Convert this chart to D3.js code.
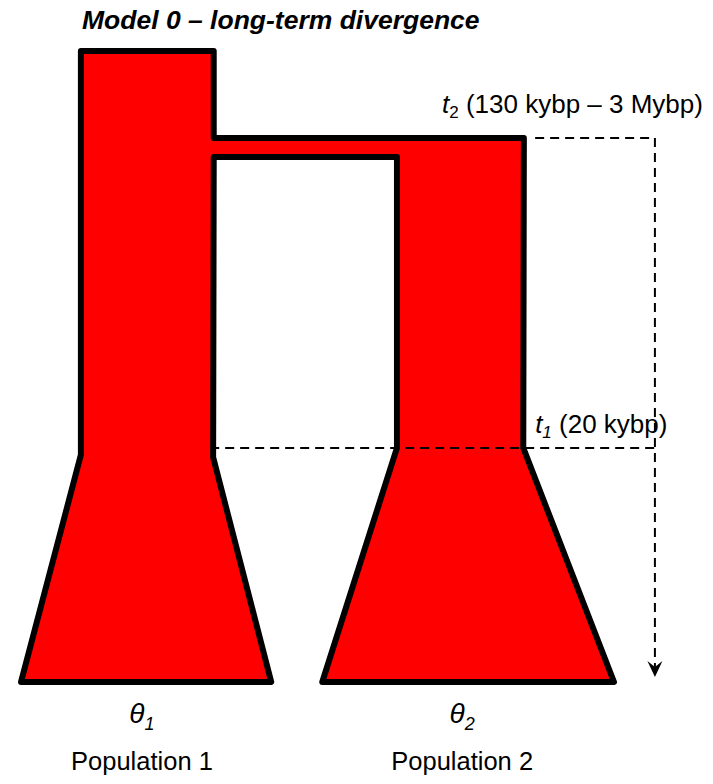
<!DOCTYPE html>
<html>
<head>
<meta charset="utf-8">
<script src="https://cdn.jsdelivr.net/npm/d3@7"></script>
<style>
  html, body { margin: 0; padding: 0; background: #fff; }
  svg { display: block; }
  text { font-family: "Liberation Sans", Arial, Helvetica, sans-serif; fill: #000; }
</style>
</head>
<body>
<svg id="chart" width="713" height="784"></svg>
<script>
// Diagram units: x runs 0..100 across the populations, y is relative time depth (0 = present, 100 = root).
const title = "Model 0 \u2013 long-term divergence";
const populations = ["Population 1", "Population 2"];
const thetaSubs = ["1", "2"];
const popCenters = [20.4, 74.4];

// time levels (depth units)
const levelNames = ["present", "growth1", "t1", "bridge", "t2", "root"];
const levelValues = [0, 35.6, 37.1, 83.2, 86.2, 100];
const L = Object.fromEntries(levelNames.map((n, i) => [n, levelValues[i]]));

// outline of the whole model (ancestral column, bridge, two daughter populations)
const outlineX = [10.1, 32.5, 32.5, 84.8, 84.7, 100, 50.8, 63.4, 63.4, 32.5, 32.4, 42.2, 0, 10.1];
const outlineT = [L.root, L.root, L.t2, L.t2, L.t1, L.present, L.present, L.t1, L.bridge, L.bridge, L.growth1, L.present, L.present, L.growth1 + 0.4];

// time markers
const markerNames = ["t2", "t1"];
const markerStart = [86.7, 31.9];
const markerLevel = [L.t2, L.t1];
const markerText = ["(130 kybp \u2013 3 Mybp)", "(20 kybp)"];
const markerLabelX = [71.0, 86.7];
const arrowX = 106.9;
const arrowEnd = 0.8;

const svg = d3.select("#chart");
const x = d3.scaleLinear().domain([0, 100]).range([21, 614]);
const y = d3.scaleLinear().domain([0, 100]).range([682, 51]);

// title
svg.append("text")
  .attr("x", 82).attr("y", 29)
  .attr("font-size", 26.5).attr("font-weight", "bold").attr("font-style", "italic")
  .text(title);

// model outline
const pts = outlineX.map((v, i) => [x(v), y(outlineT[i])]);
svg.append("path")
  .attr("d", d3.line()(pts) + "Z")
  .attr("fill", "#ff0000")
  .attr("stroke", "#000")
  .attr("stroke-width", 6)
  .attr("stroke-linejoin", "round");

// dashed time markers
const dash = "9,6";
markerNames.forEach((m, i) => {
  svg.append("line")
    .attr("x1", x(markerStart[i])).attr("x2", x(arrowX))
    .attr("y1", y(markerLevel[i])).attr("y2", y(markerLevel[i]))
    .attr("stroke", "#000").attr("stroke-width", 2).attr("stroke-dasharray", dash);
});
svg.append("line")
  .attr("x1", x(arrowX)).attr("x2", x(arrowX))
  .attr("y1", y(L.t2)).attr("y2", y(arrowEnd) - 10)
  .attr("stroke", "#000").attr("stroke-width", 2).attr("stroke-dasharray", dash);
// arrow head
const ax = x(arrowX), ay = y(arrowEnd);
svg.append("path")
  .attr("d", `M${ax},${ay} L${ax - 7.5},${ay - 16} L${ax},${ay - 10} L${ax + 7.5},${ay - 16} Z`)
  .attr("fill", "#000");

// marker labels
markerNames.forEach((m, i) => {
  const t = svg.append("text")
    .attr("x", x(markerLabelX[i]))
    .attr("y", y(markerLevel[i]) - (i === 0 ? 25 : 15))
    .attr("font-size", 26);
  t.append("tspan").attr("font-style", "italic").text("t");
  t.append("tspan").attr("font-size", 17).attr("dy", 5)
    .attr("font-style", i === 1 ? "italic" : "normal").text(m.slice(1));
  t.append("tspan").attr("dy", -5).text(" " + markerText[i]);
});

// theta labels and population names
populations.forEach((p, i) => {
  const t = svg.append("text")
    .attr("x", x(popCenters[i])).attr("y", 723)
    .attr("text-anchor", "middle").attr("font-size", 28).attr("font-style", "italic");
  t.append("tspan").text("\u03B8");
  t.append("tspan").attr("font-size", 18).attr("dy", 7).text(thetaSubs[i]);
  svg.append("text")
    .attr("x", x(popCenters[i])).attr("y", 770)
    .attr("text-anchor", "middle").attr("font-size", 25.5)
    .text(p);
});
</script>
</body>
</html>
